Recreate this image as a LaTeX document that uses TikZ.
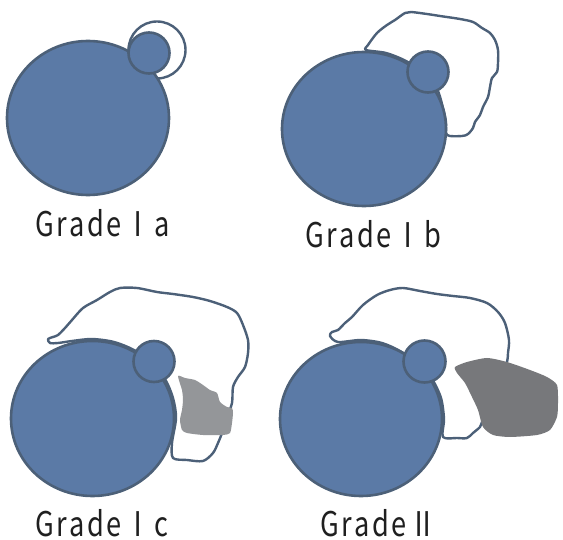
\documentclass[tikz,border=0pt]{standalone}
\usepackage{fontspec}
\newfontfamily\gradefont[FakeStretch=0.8,LetterSpace=8]{Noto Sans CJK JP}
\definecolor{discblue}{RGB}{91,122,166}
\definecolor{discedge}{RGB}{76,96,120}
\definecolor{lightmass}{RGB}{148,150,153}
\definecolor{darkmass}{RGB}{119,120,123}

\begin{document}
\begin{tikzpicture}[x=1pt,y=-1pt,
		disc/.style={fill=discblue,draw=discedge,line width=2.6pt},
		outline/.style={fill=white,draw=discedge,line width=2.4pt,line join=round},
		mass/.style={fill=#1,draw=none},
		grade/.style={anchor=base west,inner sep=0pt,text=black!88,
			font=\gradefont\fontsize{34}{34}\selectfont}]
				\useasboundingbox (0,0) rectangle (563,540);
				
				% Grade Ia
				\draw[outline] (157,50) circle[radius=28.5];
				\draw[disc] (88,118) ellipse[x radius=81,y radius=77];
				\draw[disc] (149,53) circle[radius=20.5];
				\node[grade] (la) at (35,237) {GradeⅠa};
				
				% Grade Ib
				\draw[outline] plot[smooth cycle,tension=0.5] coordinates {
					(366,50) (368,45) (377,33) (387,25) (395,20) (405,13) (411,12)
					(427,14) (440,16) (460,19) (473,22) (482,28) (490,33) (495,40)
					(498,50) (498,63) (497,72) (492,78) (490,87) (488,97) (483,107)
					(480,115) (475,122) (473,128) (468,134) (462,136) (447,135)
					(446,122) (443,108) (437,89) (423,73) (406,61) (386,53)};
				\draw[disc] (364,129) ellipse[x radius=82,y radius=77];
				\draw[disc] (428,72) circle[radius=20.5];
				\node[grade] (lb) at (305,248) {GradeⅠb};
				
				% Grade Ic
				\draw[outline] plot[smooth cycle,tension=0.5] coordinates {
					(58,343) (50,343) (48,339) (53,337) (58,335) (65,328) (72,320)
					(83,308) (97,300) (110,292) (120,288) (137,288) (157,292)
					(173,294) (193,297) (210,301) (227,307) (237,313) (243,325)
					(248,340) (248,353) (245,367) (238,377) (233,387) (232,403)
					(227,417) (222,433) (218,443) (213,453) (203,461) (187,460)
					(173,458) (172,443) (176,418) (173,398) (165,379) (151,362)
					(134,350) (114,342) (92,339) (72,341)};
				\draw[disc] (92.5,418.5) ellipse[x radius=81.5,y radius=77.5];
				\draw[disc] (154,361.5) circle[radius=20.5];
				\fill[mass=lightmass] plot[smooth cycle,tension=0.4] coordinates {
					(178,376) (185,378) (195,380) (203,385) (210,390) (217,393)
					(220,402) (227,407) (232,408) (233,413) (232,423) (230,433)
					(223,435) (203,435) (187,433) (182,430) (180,420) (182,410)
					(183,400) (182,390)};
				\node[grade] (lc) at (35,536) {GradeⅠc};
				
				% Grade II
				\draw[outline] plot[smooth cycle,tension=0.5] coordinates {
					(338,342) (330,336) (332,332) (338,330) (345,323) (352,317)
					(363,305) (377,295) (390,290) (403,288) (420,291) (437,294)
					(453,296) (470,298) (487,303) (498,312) (505,323) (509,340)
					(508,353) (507,362) (500,390) (490,410) (482,422) (480,427)
					(473,433) (467,438) (457,438) (443,437) (444,419) (441,398)
					(432,379) (418,363) (400,351) (382,343) (361,340)};
				\draw[disc] (361,419) ellipse[x radius=81,y radius=77];
				\draw[disc] (424.5,361.5) circle[radius=21];
				\fill[mass=darkmass] plot[smooth cycle,tension=0.4] coordinates {
					(455,367) (467,362) (487,358) (507,362) (530,370) (547,377)
					(557,385) (558,403) (557,417) (550,430) (537,435) (510,437)
					(493,435) (483,427) (478,410) (472,397) (465,383) (457,373)};
				\node[grade] (lii) at (320,536) {GradeⅡ};
			\end{tikzpicture}
\end{document}
